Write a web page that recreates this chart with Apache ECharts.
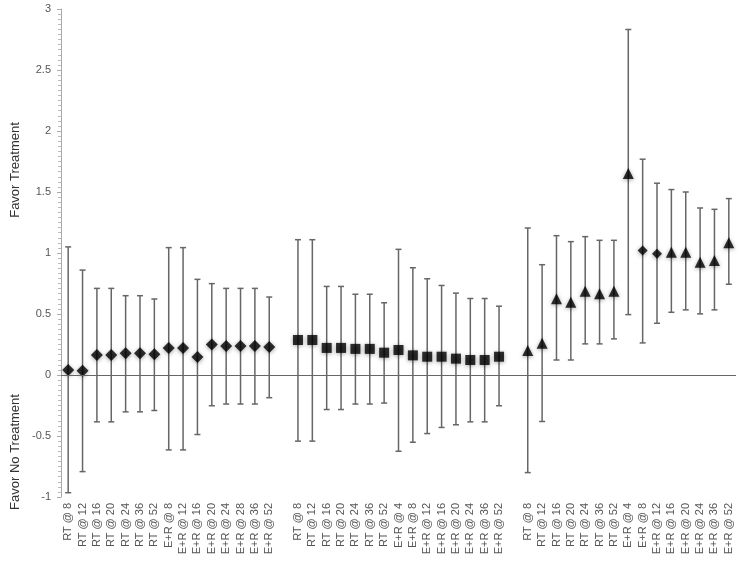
<!DOCTYPE html>
<html>
<head>
<meta charset="utf-8">
<script src="https://cdn.jsdelivr.net/npm/echarts@6/dist/echarts.min.js"></script>
<style>html,body{margin:0;padding:0;background:#fff}#c{width:739px;height:562px}</style>
</head>
<body>
<div id="c"></div>
<script>
// Group 1
const cats1 = ['RT @ 8','RT @ 12','RT @ 16','RT @ 20','RT @ 24','RT @ 36','RT @ 52','E+R @ 8','E+R @ 12','E+R @ 16','E+R @ 20','E+R @ 24','E+R @ 28','E+R @ 36','E+R @ 52'];
const est1 = [0.04,0.035,0.164,0.164,0.178,0.178,0.17,0.221,0.221,0.148,0.249,0.238,0.238,0.238,0.23];
const hi1  = [1.05,0.86,0.71,0.71,0.65,0.65,0.623,1.044,1.044,0.784,0.749,0.71,0.71,0.71,0.639];
const lo1  = [-0.965,-0.792,-0.384,-0.384,-0.302,-0.302,-0.291,-0.614,-0.614,-0.488,-0.252,-0.238,-0.238,-0.238,-0.186];
// Group 2
const cats2 = ['RT @ 8','RT @ 12','RT @ 16','RT @ 20','RT @ 24','RT @ 36','RT @ 52','E+R @ 4','E+R @ 8','E+R @ 12','E+R @ 16','E+R @ 20','E+R @ 24','E+R @ 36','E+R @ 52'];
const est2 = [0.287,0.287,0.222,0.222,0.214,0.214,0.183,0.205,0.161,0.15,0.15,0.134,0.123,0.123,0.15];
const hi2  = [1.109,1.109,0.726,0.726,0.662,0.662,0.592,1.03,0.879,0.789,0.734,0.671,0.627,0.627,0.564];
const lo2  = [-0.542,-0.542,-0.283,-0.283,-0.238,-0.238,-0.23,-0.625,-0.551,-0.48,-0.43,-0.408,-0.384,-0.384,-0.252];
// Group 3
const cats3 = ['RT @ 8','RT @ 12','RT @ 16','RT @ 20','RT @ 24','RT @ 36','RT @ 52','E+R @ 4','E+R @ 8','E+R @ 12','E+R @ 16','E+R @ 20','E+R @ 24','E+R @ 36','E+R @ 52'];
const est3 = [0.2,0.26,0.624,0.597,0.687,0.666,0.687,1.652,1.021,0.994,1.007,1.007,0.925,0.939,1.085];
const hi3  = [1.205,0.904,1.142,1.093,1.134,1.104,1.104,2.832,1.769,1.572,1.52,1.5,1.369,1.358,1.446];
const lo3  = [-0.8,-0.381,0.123,0.123,0.255,0.255,0.296,0.495,0.263,0.424,0.514,0.534,0.501,0.534,0.744];
const shapes3 = ['triangle','triangle','triangle','triangle','triangle','triangle','triangle','triangle','diamond','diamond','triangle','triangle','triangle','triangle','triangle'];
const yTicks = [-1,-0.5,0,0.5,1,1.5,2,2.5,3];

// build combined category list with a blank slot between groups
const categories = [].concat(cats1, [''], cats2, [''], cats3);
const off2 = cats1.length + 1;
const off3 = off2 + cats2.length + 1;

const errData = [];
const ptData = [];
function addGroup(cats, est, hi, lo, off, shapeFn, size) {
  cats.forEach((c, i) => {
    errData.push([off + i, lo[i], hi[i]]);
    const sh = shapeFn(i);
    ptData.push({value: [off + i, est[i]], symbol: sh, symbolSize: sh === 'diamond' && size.d ? size.d : size.s});
  });
}
addGroup(cats1, est1, hi1, lo1, 0, () => 'diamond', {s: 12});
addGroup(cats2, est2, hi2, lo2, off2, () => 'rect', {s: 10});
addGroup(cats3, est3, hi3, lo3, off3, i => shapes3[i], {s: 11, d: 10});

const chart = echarts.init(document.getElementById('c'), null, {renderer: 'canvas'});
chart.setOption({
  animation: false,
  backgroundColor: '#fff',
  grid: {left: 61, right: 3, top: 9, bottom: 65, containLabel: false},
  xAxis: {
    type: 'category',
    data: categories,
    boundaryGap: true,
    axisLine: {show: false},
    axisTick: {show: false},
    splitLine: {show: false},
    axisLabel: {interval: 0, rotate: 90, margin: 6, fontSize: 11, color: '#555', fontFamily: 'Liberation Sans'}
  },
  yAxis: {
    type: 'value',
    min: -1, max: 3, interval: 0.5,
    axisLine: {show: true, lineStyle: {color: '#aaa', width: 1}},
    axisTick: {show: true, length: 4, lineStyle: {color: '#aaa'}},
    minorTick: {show: true, splitNumber: 12, length: 3, lineStyle: {color: '#bbb'}},
    splitLine: {show: false},
    axisLabel: {margin: 10, fontSize: 11, color: '#555', fontFamily: 'Liberation Sans',
      formatter: v => String(v)}
  },
  graphic: [
    {type: 'text', left: 7, top: 123, rotation: Math.PI / 2, style: {text: 'Favor Treatment', font: '13px "Liberation Sans"', fill: '#333'},
     x: 0, y: 0},
  ],
  series: [
    {
      type: 'custom',
      data: errData,
      z: 2,
      renderItem: function (params, api) {
        const x = api.value(0);
        const lo = api.coord([x, api.value(1)]);
        const hi = api.coord([x, api.value(2)]);
        const cw = 3;
        const st = {stroke: '#666', lineWidth: 1.5};
        return {
          type: 'group',
          children: [
            {type: 'line', shape: {x1: lo[0], y1: lo[1], x2: hi[0], y2: hi[1]}, style: st},
            {type: 'line', shape: {x1: hi[0] - cw, y1: hi[1], x2: hi[0] + cw, y2: hi[1]}, style: st},
            {type: 'line', shape: {x1: lo[0] - cw, y1: lo[1], x2: lo[0] + cw, y2: lo[1]}, style: st}
          ]
        };
      }
    },
    {
      type: 'scatter',
      data: ptData,
      z: 3,
      itemStyle: {color: '#000', shadowBlur: 4, shadowColor: 'rgba(0,0,0,0.45)', shadowOffsetY: 1},
      markLine: {
        silent: true,
        symbol: 'none',
        label: {show: false},
        lineStyle: {color: '#666', width: 1, type: 'solid'},
        data: [{yAxis: 0}]
      }
    }
  ]
});
// axis titles (rotated, reading bottom to top)
chart.setOption({
  graphic: [
    {type: 'text', x: 15, y: 170, rotation: Math.PI / 2,
     style: {text: 'Favor Treatment', font: '13px "Liberation Sans"', fill: '#333', align: 'center', verticalAlign: 'middle'}},
    {type: 'text', x: 15, y: 452, rotation: Math.PI / 2,
     style: {text: 'Favor No Treatment', font: '13px "Liberation Sans"', fill: '#333', align: 'center', verticalAlign: 'middle'}}
  ]
}, {replaceMerge: ['graphic']});
</script>
</body>
</html>
